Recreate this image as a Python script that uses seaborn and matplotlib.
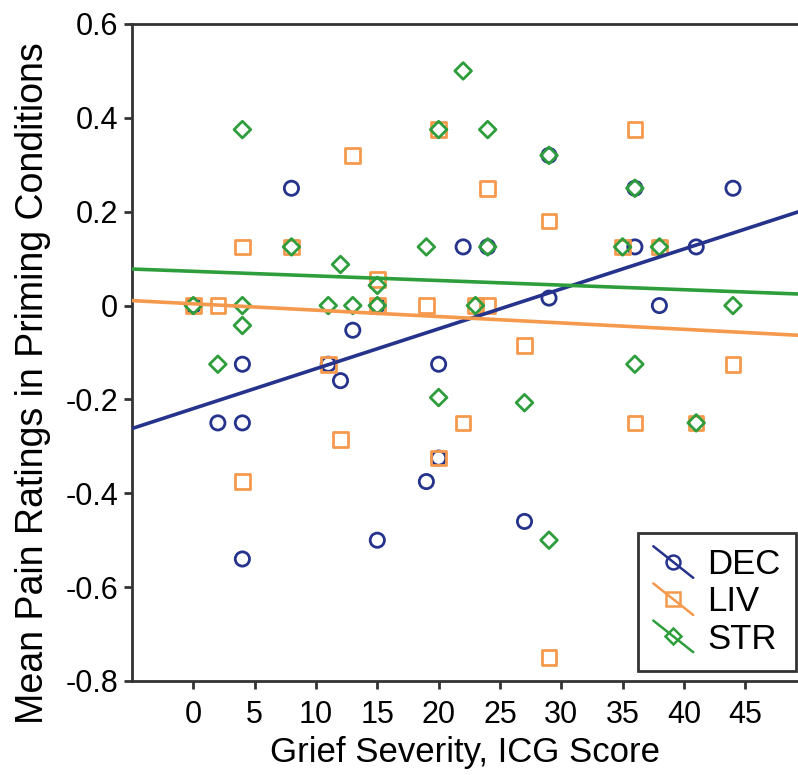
import matplotlib
matplotlib.use("Agg")
import matplotlib.pyplot as plt
import pandas as pd
import seaborn as sns
from matplotlib.legend_handler import HandlerLine2D
from matplotlib.lines import Line2D

# values
dec_x = [0, 2, 4, 4, 4, 8, 11, 12, 13, 15, 15, 19, 20, 20, 22, 24, 27, 29, 29, 36, 36, 38, 41, 44]
dec_y = [0, -0.25, -0.125, -0.25, -0.54, 0.25, -0.125, -0.16, -0.0525, 0, -0.5, -0.375,
         -0.125, -0.325, 0.125, 0.125, -0.46, 0.32, 0.016, 0.25, 0.125, 0, 0.125, 0.25]

liv_x = [0, 2, 4, 4, 8, 11, 12, 13, 15, 15, 19, 20, 20, 22, 23, 24, 24, 27, 29, 29, 35, 36, 36, 38, 41, 44]
liv_y = [0, 0, 0.125, -0.375, 0.125, -0.125, -0.285, 0.32, 0.055, 0, 0, 0.375, -0.325, -0.25,
         0, 0.25, 0, -0.085, 0.18, -0.75, 0.125, 0.375, -0.25, 0.125, -0.25, -0.125]

str_x = [0, 2, 4, 4, 4, 8, 11, 12, 13, 15, 15, 19, 20, 20, 22, 23, 24, 24, 27, 29, 29, 35, 36, 36, 38, 41, 44]
str_y = [0, -0.125, 0.375, 0, -0.0425, 0.125, 0, 0.0875, 0, 0.043, 0, 0.125, 0.375, -0.196, 0.5,
         0, 0.375, 0.125, -0.207, 0.32, -0.5, 0.125, 0.25, -0.125, 0.125, -0.25, 0]

groups = ["DEC", "LIV", "STR"]
fit_intercept = [-0.2195, 0.0038, 0.073]
fit_slope = [0.0085, -0.00136, -0.00098]

x_ticks = [0, 5, 10, 15, 20, 25, 30, 35, 40, 45]
y_ticks = [-0.8, -0.6, -0.4, -0.2, 0, 0.2, 0.4, 0.6]
y_tick_labels = ["-0.8", "-0.6", "-0.4", "-0.2", "0", "0.2", "0.4", "0.6"]

colors = {"DEC": "#25338c", "LIV": "#f5994c", "STR": "#2e9e3c"}
markers = {"DEC": "o", "LIV": "s", "STR": "D"}
sizes = {"DEC": 105, "LIV": 110, "STR": 72}

df = pd.concat([
    pd.DataFrame({"icg": dec_x, "pain": dec_y, "cond": "DEC"}),
    pd.DataFrame({"icg": liv_x, "pain": liv_y, "cond": "LIV"}),
    pd.DataFrame({"icg": str_x, "pain": str_y, "cond": "STR"}),
])


class DiagHandler(HandlerLine2D):
    def create_artists(self, legend, orig_handle, xdescent, ydescent,
                       width, height, fontsize, trans):
        x0, x1 = -xdescent, -xdescent + width
        y0, y1 = -ydescent + height * 1.15, -ydescent - height * 0.15
        line = Line2D([x0, x1], [y0, y1])
        self.update_prop(line, orig_handle, legend)
        line.set_marker("None")
        line.set_transform(trans)
        mk = Line2D([(x0 + x1) / 2], [(y0 + y1) / 2])
        self.update_prop(mk, orig_handle, legend)
        mk.set_linestyle("None")
        mk.set_transform(trans)
        return [line, mk]


sns.set_style("white")
plt.rcParams["font.family"] = ["Liberation Sans", "DejaVu Sans"]
plt.rcParams["text.color"] = "black"
plt.rcParams["axes.labelcolor"] = "black"

fig = plt.figure(figsize=(7.98, 7.75), dpi=100)
ax = fig.add_axes([132 / 798, 94 / 775, 666 / 798, 657 / 775])

for g in groups:
    sub = df[df["cond"] == g]
    sns.scatterplot(data=sub, x="icg", y="pain", ax=ax, marker=markers[g],
                    s=sizes[g], facecolor="none", edgecolor=colors[g],
                    linewidth=2, legend=False, zorder=3)

xlim = (-5, 49.3)
handles = []
for g, b0, b1 in zip(groups, fit_intercept, fit_slope):
    fx = pd.Series(xlim)
    sns.lineplot(x=fx, y=b0 + b1 * fx, ax=ax, color=colors[g], linewidth=2.6, zorder=4)
    ms = 10 if g != "STR" else 8.5
    handles.append(Line2D([], [], color=colors[g], lw=1.8, marker=markers[g],
                          markersize=ms, markerfacecolor="none",
                          markeredgecolor=colors[g], markeredgewidth=1.8))

ax.set_xlim(*xlim)
ax.set_ylim(-0.8, 0.6)
ax.set_xticks(x_ticks)
ax.set_yticks(y_ticks)
ax.set_yticklabels(y_tick_labels)
ax.tick_params(axis="both", direction="out", length=6, width=2, color="#333333",
               labelcolor="black", labelsize=22, pad=4, left=True, bottom=True)
ax.tick_params(axis="x", pad=8)
for side in ["left", "bottom", "top"]:
    ax.spines[side].set_color("#333333")
    ax.spines[side].set_linewidth(2)
ax.spines["right"].set_visible(False)

ax.set_xlabel("Grief Severity, ICG Score", fontsize=25, labelpad=4)
ax.set_ylabel("Mean Pain Ratings in Priming Conditions", fontsize=27)
ax.yaxis.set_label_coords(-0.122, 0.453)

leg = ax.legend(handles, groups, loc="lower right", bbox_to_anchor=(0.997, 0.015),
                borderaxespad=0, handler_map={Line2D: DiagHandler()}, fontsize=25,
                frameon=True, fancybox=False, edgecolor="black", handlelength=1.15,
                handletextpad=0.4, labelspacing=0.12, borderpad=0.45)
leg.get_frame().set_linewidth(2)

fig.savefig("out.png", dpi=100)
